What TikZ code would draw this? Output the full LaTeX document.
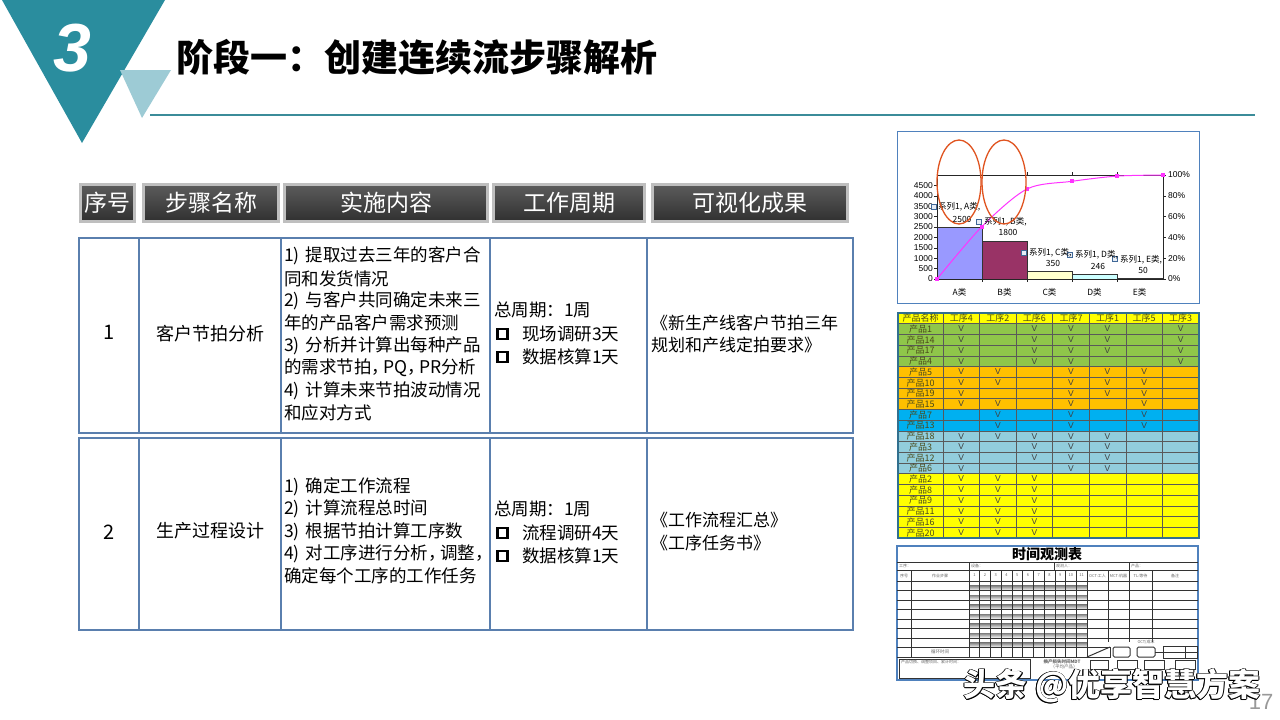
\documentclass[tikz,border=0pt]{standalone}
\usepackage{fontspec}
\setmainfont{Noto Sans CJK SC}
\newfontfamily\numfont{Liberation Sans}
\usetikzlibrary{shapes.geometric}
\definecolor{teal1}{HTML}{2A8D9E}
\definecolor{teal2}{HTML}{9DCBD5}
\definecolor{tline}{HTML}{3B8C99}
\definecolor{cellblue}{HTML}{5A7FAE}
\definecolor{hdrborder}{HTML}{BFBFBF}
\definecolor{hdrtop}{HTML}{5C5C5C}
\definecolor{hdrbot}{HTML}{303030}
\definecolor{chartframe}{HTML}{4F81BD}
\definecolor{barA}{HTML}{9999FF}
\definecolor{barB}{HTML}{993366}
\definecolor{barC}{HTML}{FFFFCC}
\definecolor{barD}{HTML}{CCFFFF}
\definecolor{pink1}{HTML}{FF33FF}
\definecolor{redell}{HTML}{E0531F}
\definecolor{tY}{HTML}{FFFF00}
\definecolor{tG}{HTML}{8FC64A}
\definecolor{tO}{HTML}{FFC000}
\definecolor{tB}{HTML}{00B0F0}
\definecolor{tL}{HTML}{92CDDC}
\definecolor{tbltext}{HTML}{4A4A1A}
\definecolor{tblborder}{HTML}{31708F}
\definecolor{shade}{HTML}{A8A8A8}
\newcommand{\halfpunct}{\addfontfeature{RawFeature=+halt}}
\begin{document}
\begin{tikzpicture}[x=1pt,y=-1pt,
  hdr/.style={draw=hdrborder, line width=3.5pt, top color=hdrtop, bottom color=hdrbot,
    text=white, font=\fontsize{23}{26}\selectfont, inner sep=0, minimum height=37pt},
  cell/.style={draw=cellblue, line width=2.6pt},
  txt/.style={inner sep=0, anchor=west, font=\fontsize{17.5}{22}\selectfont},
  txtc/.style={inner sep=0, font=\fontsize{18}{22}\selectfont},
  vis/.style={inner sep=0, anchor=west, font=\fontsize{17}{20}\selectfont},
  sq/.style={draw=black, line width=2.2pt},
  bar/.style={draw=black!80, line width=0.5pt},
  axis/.style={draw=black!85, line width=0.6pt},
  lbl/.style={inner sep=0, font=\numfont\fontsize{8.5}{9}\selectfont},
  clbl/.style={inner sep=0, font=\fontsize{8.5}{9}\selectfont},
  dlm/.style={draw=chartframe!80!black, fill=chartframe!15, line width=0.6pt},
  tbltxt/.style={inner sep=0, text=tbltext, font=\fontsize{9}{10}\selectfont},
  vtxt/.style={inner sep=0, text=black!75, font=\numfont\fontsize{8.5}{9}\selectfont},
  grid/.style={draw=black!65, line width=0.5pt},
  tl/.style={draw=black!80, line width=0.5pt},
  tiny/.style={inner sep=0, text=black!60, font=\fontsize{4}{5}\selectfont},
  wm/.style={inner sep=0, font=\fontsize{32}{34}\selectfont\bfseries}
]
\useasboundingbox (0,0) rectangle (1280,720);
\fill[white] (0,0) rectangle (1280,720);

% ---------- logo and title ----------
\fill[teal1] (2,0) -- (165,0) -- (82,143) -- cycle;
\fill[teal2] (120,70) -- (171,70) -- (142,118) -- cycle;
\node[inner sep=0, text=white, font=\numfont\fontsize{68}{70}\selectfont\bfseries\itshape] (num) at (72,48) {3};
\node[anchor=west, inner sep=0, font=\fontsize{37}{40}\selectfont\bfseries] (title) at (176,57) {阶段一：创建连续流步骤解析};
\draw[tline, line width=2pt] (150,115) -- (1255,115);

% ---------- header row ----------
\node[hdr, minimum width=54pt]  (h1) at (107.5,203) {序号};
\node[hdr, minimum width=135pt] (h2) at (211,203) {步骤名称};
\node[hdr, minimum width=203pt] (h3) at (386,203) {实施内容};
\node[hdr, minimum width=151pt] (h4) at (569,203) {工作周期};
\node[hdr, minimum width=195pt] (h5) at (750,203) {可视化成果};

% ---------- body cells ----------
\foreach \xa/\xb in {79/139,139/281,281/490,490/647,647/853}{
  \draw[cell] (\xa,238) rectangle (\xb,433);
  \draw[cell] (\xa,438) rectangle (\xb,630);
}

% row 1
\node[txtc, font=\fontsize{20}{22}\selectfont] (r1n) at (109,332) {1};
\node[txtc] (r1s) at (210,334) {客户节拍分析};
\foreach \t [count=\i from 0] in {{1)\hspace{0.35em}提取过去三年的客户合},{同和发货情况},{2)\hspace{0.35em}与客户共同确定未来三},{年的产品客户需求预测},{3)\hspace{0.35em}分析并计算出每种产品},{\halfpunct 的需求节拍，\,PQ，\,PR分析},{4)\hspace{0.35em}计算未来节拍波动情况},{和应对方式}}
  \node[txt] (r1c\i) at (284,{256+22.4*\i}) {\t};
\node[txt] (r1p0) at (494,310) {总周期：1周};
\draw[sq] (497.5,329) rectangle (507.5,339);
\node[txt] (r1p1) at (522,334) {现场调研3天};
\draw[sq] (497.5,352) rectangle (507.5,362);
\node[txt] (r1p2) at (522,357) {数据核算1天};
\node[vis] (r1v0) at (651,323) {《新生产线客户节拍三年};
\node[vis] (r1v1) at (651,345) {规划和产线定拍要求》};

% row 2
\node[txtc, font=\fontsize{20}{22}\selectfont] (r2n) at (109,532) {2};
\node[txtc] (r2s) at (210,531) {生产过程设计};
\foreach \t [count=\i from 0] in {{1)\hspace{0.35em}确定工作流程},{2)\hspace{0.35em}计算流程总时间},{3)\hspace{0.35em}根据节拍计算工序数},{\halfpunct 4)\hspace{0.35em}对工序进行分析，\,调整，},{确定每个工序的工作任务}}
  \node[txt] (r2c\i) at (284,{487+22.3*\i}) {\t};
\node[txt] (r2p0) at (494,509) {总周期：1周};
\draw[sq] (497.5,528) rectangle (507.5,538);
\node[txt] (r2p1) at (522,533) {流程调研4天};
\draw[sq] (497.5,551) rectangle (507.5,561);
\node[txt] (r2p2) at (522,556) {数据核算1天};
\node[vis] (r2v0) at (651,520) {《工作流程汇总》};
\node[vis] (r2v1) at (651,543) {《工序任务书》};

% ---------- Pareto chart ----------
\draw[chartframe, line width=1pt] (897,131) rectangle (1199,303);
\draw[bar, fill=barA] (937,279) rectangle (982,227);
\draw[bar, fill=barB] (982,279) rectangle (1027,241.6);
\draw[bar, fill=barC] (1027,279) rectangle (1072,271.7);
\draw[bar, fill=barD] (1072,279) rectangle (1117,273.9);
\draw[bar, fill=white] (1117,279) rectangle (1162,278);
\draw[axis] (937,175) rectangle (1163,279);
\foreach \v in {0,500,...,4500}{
  \draw[axis] (934,{279-0.0208*\v}) -- (937,{279-0.0208*\v});
  \node[lbl, anchor=east] (ly\v) at (933,{279-0.0208*\v}) {\v};
}
\foreach \p in {0,20,...,100}{
  \draw[axis] (1163,{279-1.04*\p}) -- (1166,{279-1.04*\p});
  \node[lbl, anchor=west] (ry\p) at (1168,{279-1.04*\p}) {\p\%};
}
\foreach \xx in {982,1027,1072,1117}{
  \draw[axis] (\xx,279) -- (\xx,282);
  \draw[axis] (\xx,175) -- (\xx,172);
}
\foreach \cn/\xx in {A/959.5,B/1004.5,C/1049.5,D/1094.5,E/1139.5}
  \node[clbl] (cat\cn) at (\xx,292) {\cn{}类};
\draw[pink1, line width=1pt] plot[smooth, tension=0.5] coordinates {(937,279) (982,226.5) (1027,189) (1072,181.3) (1117,176.1) (1163,175)};
\foreach \px/\py in {937/279,982/226.5,1027/189,1072/181.3,1117/176.1,1163/175}
  \fill[pink1] ({\px-2},{\py-2}) rectangle ({\px+2},{\py+2});
\foreach \mx/\my in {934/207,979/222,1024/253,1070/255,1115/259}
  \draw[dlm] ({\mx-2.5},{\my-2.5}) rectangle ({\mx+2.5},{\my+2.5});
\node[clbl, anchor=west] (dlA) at (938,207) {系列1, A类,};
\node[clbl] (dvA) at (962,219) {2500};
\node[clbl, anchor=west] (dlB) at (984,222) {系列1, B类,};
\node[clbl] (dvB) at (1008,232) {1800};
\node[clbl, anchor=west] (dlC) at (1029,253) {系列1, C类,};
\node[clbl] (dvC) at (1053,263) {350};
\node[clbl, anchor=west] (dlD) at (1075,255) {系列1, D类,};
\node[clbl] (dvD) at (1098,266) {246};
\node[clbl, anchor=west] (dlE) at (1120,260) {系列1, E类,};
\node[clbl] (dvE) at (1143,270) {50};
\draw[redell, line width=1.3pt] (959,182) ellipse [x radius=22pt, y radius=42pt];
\draw[redell, line width=1.3pt] (1004,182) ellipse [x radius=22pt, y radius=42pt];

% ---------- coloured process table ----------
\def\rh{10.714}
\foreach \col [count=\r from 0] in {tY,tG,tG,tG,tG,tO,tO,tO,tO,tB,tB,tL,tL,tL,tL,tY,tY,tY,tY,tY,tY}
  \fill[\col] (898,{313+\rh*\r}) rectangle (1199,{313+\rh*(\r+1)});
\foreach \r in {1,...,20}
  \draw[grid] (898,{313+\rh*\r}) -- (1199,{313+\rh*\r});
\foreach \k in {0,...,6}
  \draw[grid] ({943+36.57*\k},313) -- ({943+36.57*\k},538);
\draw[tblborder, line width=1.2pt] (898,313) rectangle (1199,538);
\node[tbltxt] (th) at (920.5,{313+\rh*0.5}) {产品名称};
\foreach \h [count=\k from 0] in {工序4,工序2,工序6,工序7,工序1,工序5,工序3}
  \node[tbltxt] (th\k) at ({943+36.57*(\k+0.5)},{313+\rh*0.5}) {\h};
\foreach \nm/\flags [count=\r] in {
  产品1/{1,0,1,1,1,0,1}, 产品14/{1,0,1,1,1,0,1}, 产品17/{1,0,1,1,1,0,1}, 产品4/{1,0,1,1,0,0,1},
  产品5/{1,1,0,1,1,1,0}, 产品10/{1,1,0,1,1,1,0}, 产品19/{1,0,0,1,1,1,0}, 产品15/{1,1,0,1,0,1,0},
  产品7/{0,1,0,1,0,1,0}, 产品13/{0,1,0,1,0,1,0},
  产品18/{1,1,1,1,1,0,0}, 产品3/{1,0,1,1,1,0,0}, 产品12/{1,0,1,1,1,0,0}, 产品6/{1,0,0,1,1,0,0},
  产品2/{1,1,1,0,0,0,0}, 产品8/{1,1,1,0,0,0,0}, 产品9/{1,1,1,0,0,0,0}, 产品11/{1,1,1,0,0,0,0},
  产品16/{1,1,1,0,0,0,0}, 产品20/{1,1,1,0,0,0,0}}{
  \node[tbltxt] (pn\r) at (920.5,{313+\rh*(\r+0.5)}) {\nm};
  \foreach \f [count=\k] in \flags {
    \ifnum\f=1 \node[vtxt] (v\r-\k) at ({943+36.57*(\k-0.5)},{313+\rh*(\r+0.5)}) {V};\fi
  }
}

% ---------- time observation sheet ----------
\foreach \k in {0,...,6}
  \fill[shade] (969,{581+9.5*\k+4.5}) rectangle (1087,{581+9.5*\k+9.5});
\draw[chartframe, line width=1.2pt] (897,546) rectangle (1198,680);
\node[inner sep=0, font=\fontsize{14}{15}\selectfont\bfseries] (tt) at (1047,554.5) {时间观测表};
\draw[tl] (897,562) -- (1198,562);
\draw[tl] (897,570) -- (1198,570);
\draw[tl] (897,581) -- (1198,581);
\foreach \yy in {590.5,600,609.5,619,628.5,638,647.5}
  \draw[tl] (897,\yy) -- (1087,\yy);
\draw[tl] (897,657) -- (1087,657);
\foreach \yy in {590.5,600,609.5,619,628.5,638}
  \draw[tl] (1087,\yy) -- (1198,\yy);
\draw[tl] (969,562) -- (969,657);
\draw[tl] (1054,562) -- (1054,570);
\draw[tl] (1129,562) -- (1129,642);
\draw[tl] (911,570) -- (911,657);
\foreach \k in {1,...,10}
  \draw[tl] ({969+10.73*\k},570) -- ({969+10.73*\k},657);
\draw[tl] (1087,570) -- (1087,647);
\draw[tl] (1108,570) -- (1108,642);
\draw[tl] (1152,570) -- (1152,642);
\node[tiny, anchor=west] (t1) at (899,566) {工序：};
\node[tiny, anchor=west] (t2) at (971,566) {设备：};
\node[tiny, anchor=west] (t3) at (1056,566) {观测人：};
\node[tiny, anchor=west] (t4) at (1131,566) {产品：};
\node[tiny] (t5) at (904,575.5) {序号};
\node[tiny] (t6) at (940,575.5) {作业步骤};
\foreach \k in {1,...,11}
  \node[tiny] (tn\k) at ({969+10.73*(\k-0.5)},575.5) {\k};
\node[tiny] (t7) at (1097.5,575.5) {OCT:工人};
\node[tiny] (t8) at (1118.5,575.5) {MCT:机器};
\node[tiny] (t9) at (1140.5,575.5) {TL:等待};
\node[tiny] (t10) at (1175,575.5) {备注};
\node[tiny, font=\fontsize{4.5}{5}\selectfont] (t11) at (940,652) {循环时间};
\draw[tl, line width=0.9pt] (899,659) rectangle (1030,678);
\node[tiny, anchor=west] (t12) at (901,662) {产品切换、调整项目、累计时间：};
\node[tiny, font=\fontsize{4.5}{5}\selectfont\bfseries] (t13) at (1062,662) {换产损失时间MDT};
\node[tiny, font=\fontsize{4.5}{5}\selectfont] (t14) at (1064,667) {（平均产品）};
\draw[tl, line width=1pt] (1087,647) rectangle (1110,657);
\draw[tl, line width=1pt] (1087,657) -- (1110,647);
\draw[tl, line width=1pt, rounded corners=1.5pt] (1113,647) rectangle (1130,657);
\draw[tl, line width=1pt, rounded corners=1.5pt] (1137,647) rectangle (1155,657);
\draw[tl, line width=1pt] (1155,652) -- (1163,652);
\draw[tl, line width=1pt] (1163,646) rectangle (1197,658);
\draw[tl] (1163,652) -- (1197,652);
\draw[tl] (1185,646) -- (1185,658);
\node[tiny] (t15) at (1146,642.5) {OCT/成本};
\foreach \xa/\xb in {1090/1108,1117/1137,1144/1164,1175/1195}
  \draw[tl, line width=1pt] (\xa,660) rectangle (\xb,669);

% ---------- page number and watermark ----------
\node[inner sep=0, text=black!40, font=\numfont\fontsize{22}{22}\selectfont] (pg) at (1261,702) {17};
\foreach \dx/\dy [count=\k] in {-0.7/0,0.7/0,0/-0.7,0/0.7,-0.5/-0.5,0.5/0.5,-0.5/0.5,0.5/-0.5}
  \node[wm, text=black] (wmo\k) at ({1112+\dx},{686+\dy}) {头条 @优享智慧方案};
\node[wm, text=white] (wm) at (1112,686) {头条 @优享智慧方案};
\end{tikzpicture}
\end{document}
